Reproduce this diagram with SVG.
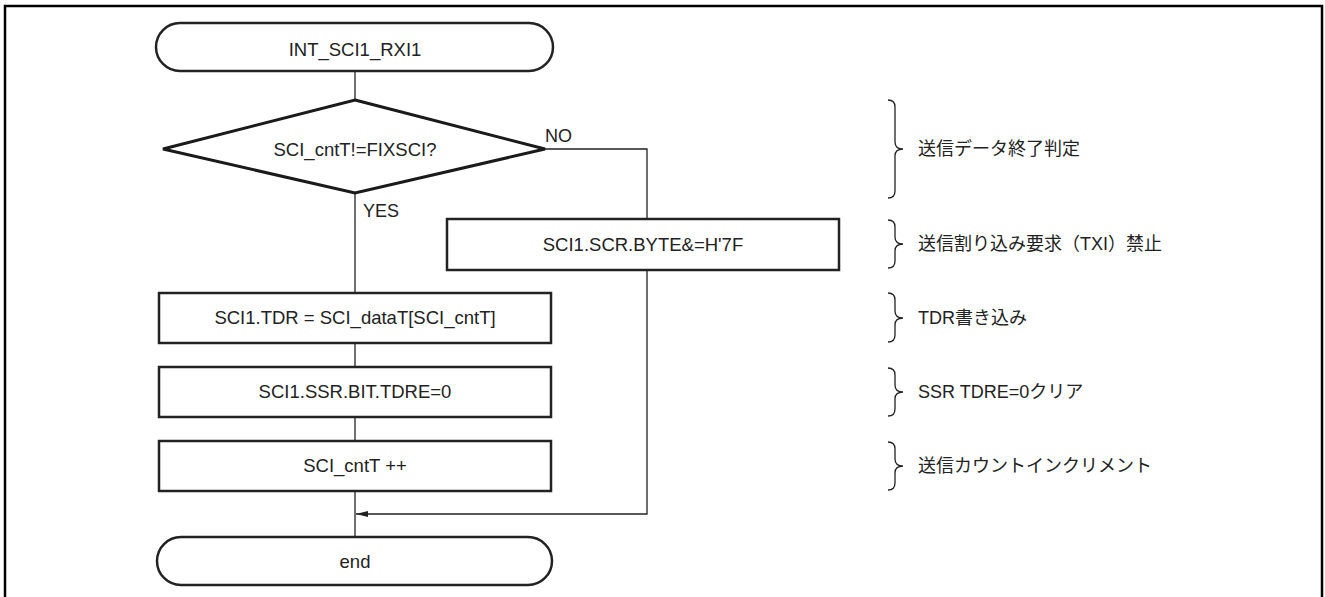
<svg xmlns="http://www.w3.org/2000/svg" width="1325" height="597" viewBox="0 0 1325 597">
  <defs>
    <style>
      text { font-family: "Liberation Sans", "Noto Sans CJK JP", sans-serif; font-size: 18px; fill: #222; }
      .c { text-anchor: middle; font-size: 18.5px; }
      .shape { fill: #fff; stroke: #222; stroke-width: 2.5; }
      .diamond { fill: #fff; stroke: #1a1a1a; stroke-width: 3; }
      .wire { fill: none; stroke: #222; stroke-width: 1.3; }
      .brace { fill: none; stroke: #222; stroke-width: 1.3; }
    </style>
    <marker id="arrow" viewBox="0 0 12 6" refX="12" refY="3" markerWidth="12" markerHeight="6" markerUnits="userSpaceOnUse" orient="auto">
      <path d="M0,0 L12,3 L0,6 Z" fill="#222"/>
    </marker>
  </defs>

  <rect x="5" y="6" width="1317" height="600" fill="#fff" stroke="#000" stroke-width="2.5"/>

  <!-- connectors -->
  <g id="connectors">
    <path class="wire" d="M355,71 V100"/>
    <path class="wire" d="M355,193 V293"/>
    <path class="wire" d="M355,343 V367"/>
    <path class="wire" d="M355,417 V441"/>
    <path class="wire" d="M355,491 V537"/>
    <path class="wire" d="M545,149 H647 V219"/>
    <path class="wire" d="M647,270 V514 H356" marker-end="url(#arrow)"/>
    <text x="363" y="217">YES</text>
    <text x="545" y="142">NO</text>
  </g>

  <!-- flowchart nodes -->
  <g id="start">
    <rect class="shape" x="156" y="23" width="397" height="48" rx="24" ry="24"/>
    <text class="c" x="355" y="56">INT_SCI1_RXI1</text>
  </g>
  <g id="check-count">
    <polygon class="diamond" points="355,100 545,149 355,193 163,149"/>
    <text class="c" x="355" y="156">SCI_cntT!=FIXSCI?</text>
  </g>
  <g id="disable-txi">
    <rect class="shape" x="447" y="219" width="392" height="51"/>
    <text class="c" x="643" y="251">SCI1.SCR.BYTE&amp;=H'7F</text>
  </g>
  <g id="write-tdr">
    <rect class="shape" x="159" y="293" width="392" height="50"/>
    <text class="c" x="355" y="324">SCI1.TDR = SCI_dataT[SCI_cntT]</text>
  </g>
  <g id="clear-tdre">
    <rect class="shape" x="159" y="367" width="392" height="50"/>
    <text class="c" x="355" y="398">SCI1.SSR.BIT.TDRE=0</text>
  </g>
  <g id="inc-count">
    <rect class="shape" x="159" y="441" width="392" height="50"/>
    <text class="c" x="355" y="472">SCI_cntT ++</text>
  </g>
  <g id="end">
    <rect class="shape" x="157" y="537" width="395" height="48" rx="24" ry="24"/>
    <text class="c" x="355" y="568">end</text>
  </g>

  <!-- side notes with braces -->
  <g id="note-end-check">
    <path class="brace" d="M888,100 Q895,100 895,107 V142 Q895,149 903,149 Q895,149 895,156 V191 Q895,198 888,198"/>
    <text x="918" y="155">送信データ終了判定</text>
  </g>
  <g id="note-txi">
    <path class="brace" d="M888,220 Q895,220 895,227 V237 Q895,244 903,244 Q895,244 895,251 V261 Q895,268 888,268"/>
    <text x="918" y="250">送信割り込み要求（TXI）禁止</text>
  </g>
  <g id="note-tdr">
    <path class="brace" d="M888,293 Q895,293 895,300 V311 Q895,318 903,318 Q895,318 895,325 V335 Q895,342 888,342"/>
    <text x="918" y="324">TDR書き込み</text>
  </g>
  <g id="note-ssr">
    <path class="brace" d="M888,368 Q895,368 895,375 V385 Q895,392 903,392 Q895,392 895,399 V409 Q895,416 888,416"/>
    <text x="918" y="398">SSR TDRE=0クリア</text>
  </g>
  <g id="note-count">
    <path class="brace" d="M888,442 Q895,442 895,449 V459 Q895,466 903,466 Q895,466 895,473 V483 Q895,490 888,490"/>
    <text x="918" y="472">送信カウントインクリメント</text>
  </g>
</svg>
